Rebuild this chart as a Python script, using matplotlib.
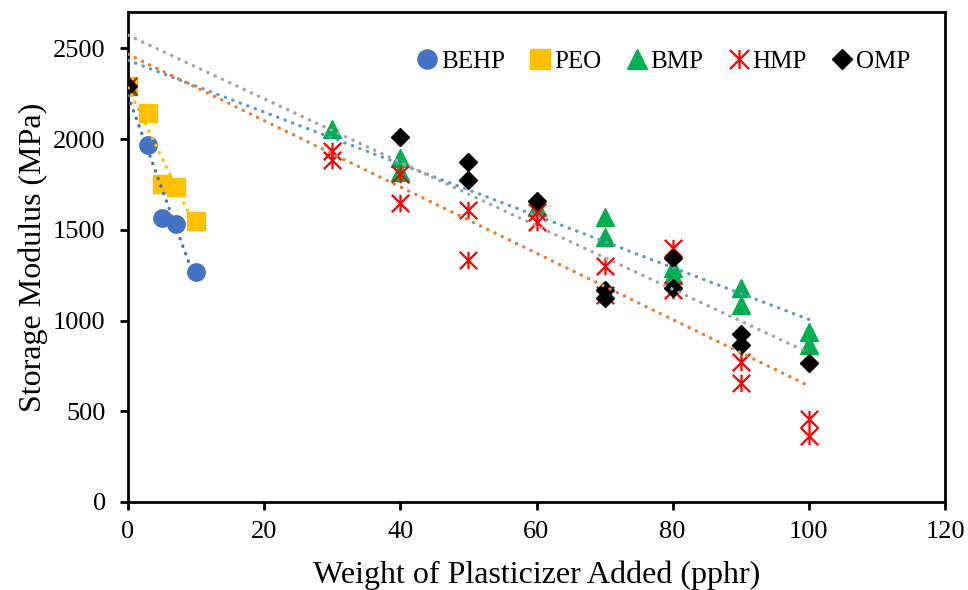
import numpy as np
import matplotlib
matplotlib.use("Agg")
import matplotlib.pyplot as plt
from matplotlib.path import Path

plt.rcParams['font.family'] = ['Liberation Serif', 'DejaVu Serif']

# plasticizer loading (pphr) and storage modulus (MPa) per series
behp_x = [0, 3, 5, 7, 10]
behp_y = [2290, 1965, 1567, 1534, 1269]

peo_x = [0, 3, 5, 7, 10]
peo_y = [2290, 2141, 1755, 1738, 1551]

bmp_x = [0, 30, 40, 40, 60, 70, 70, 80, 80, 90, 90, 100, 100]
bmp_y = [2290, 2053, 1898, 1821, 1628, 1573, 1462, 1291, 1253, 1181, 1087, 938, 866]

hmp_x = [0, 30, 30, 40, 40, 50, 50, 60, 60, 70, 70, 80, 80, 90, 90, 100, 100]
hmp_y = [2290, 1932, 1887, 1810, 1650, 1611, 1336, 1600, 1545, 1302, 1142,
         1402, 1170, 773, 657, 455, 365]

omp_x = [0, 40, 50, 50, 60, 70, 70, 80, 80, 90, 90, 100]
omp_y = [2290, 2009, 1871, 1772, 1656, 1170, 1126, 1347, 1181, 927, 866, 767]

# trendline end values
short_trend_x = [0, 10]
behp_trend = [2239, 1210]
peo_trend = [2283, 1507]
long_trend_x = [0, 100]
bmp_trend = [2434, 1006]
hmp_trend = [2467, 640]
omp_trend = [2572, 822]

xticks = [0, 20, 40, 60, 80, 100, 120]
yticks = [0, 500, 1000, 1500, 2000, 2500]

# asterisk marker: vertical bar plus an X
star = Path([(0, -1), (0, 1), (-1, -1), (1, 1), (-1, 1), (1, -1)],
            [Path.MOVETO, Path.LINETO] * 3)

fig = plt.figure(figsize=(9.68, 5.9), dpi=100)
ax = fig.add_axes([128/968, 1 - 502/590, (945-128)/968, (502-12)/590])

ax.plot(behp_x, behp_y, 'o', color='#4472C4', ms=12.5, mec='#4472C4', ls='none', label='BEHP')
ax.plot(peo_x, peo_y, 's', color='#FFC000', ms=12.5, ls='none', label='PEO')
ax.plot(bmp_x, bmp_y, '^', color='#00B050', ms=12.5, ls='none', label='BMP')
ax.plot(hmp_x, hmp_y, marker=star, color='#FF0000', ms=12.5, mew=1.6, ls='none', label='HMP')
ax.plot(omp_x, omp_y, 'D', color='black', ms=9.5, ls='none', label='OMP')

dot = (0, (0.1, 2.3))
for tx, ty, c in [(short_trend_x, behp_trend, '#4472C4'),
                  (short_trend_x, peo_trend, '#FFC000'),
                  (long_trend_x, bmp_trend, '#5B9BD5'),
                  (long_trend_x, hmp_trend, '#ED7D31'),
                  (long_trend_x, omp_trend, '#A5A5A5')]:
    ax.plot(tx, ty, color=c, lw=2.4, ls=dot, dash_capstyle='round', zorder=5)

ax.set_xlim(0, 120)
ax.set_ylim(0, 2700)
ax.set_xticks(xticks)
ax.set_yticks(yticks)
for s in ax.spines.values():
    s.set_linewidth(2)
    s.set_color('black')
ax.tick_params(axis='both', direction='out', length=6, width=2, labelsize=19)
ax.tick_params(axis='x', pad=8)
ax.tick_params(axis='y', pad=10)
ax.tick_params(axis='x', which='both', top=False)
ax.tick_params(axis='y', which='both', right=False)

ax.set_xlabel('Weight of Plasticizer Added (pphr)', fontsize=23, labelpad=12)
ax.set_ylabel('Storage Modulus (MPa)', fontsize=23, labelpad=4)

ax.legend(loc='center right', bbox_to_anchor=(0.97, 0.898), ncol=5, frameon=False,
          fontsize=18, handletextpad=0.0, columnspacing=0.87, handlelength=1.1,
          markerscale=1.1, borderaxespad=0)

fig.savefig('out.png', dpi=100)
